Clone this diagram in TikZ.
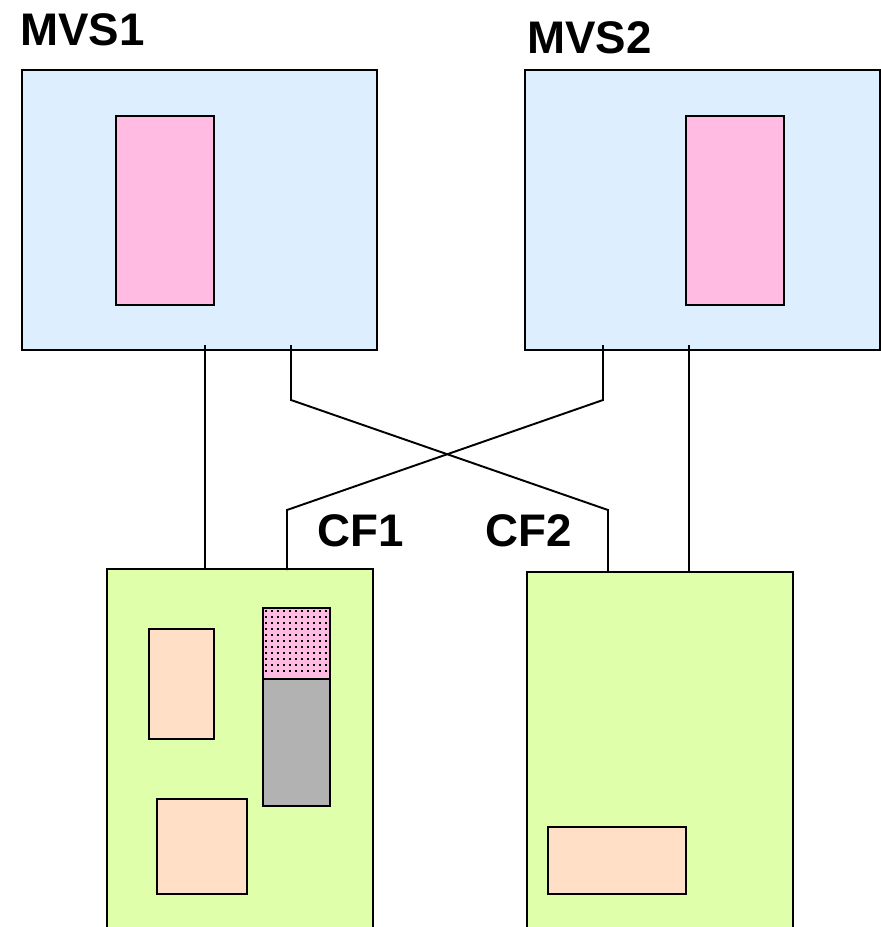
\documentclass[tikz,border=0pt]{standalone}
\usepackage{fontspec}
\setmainfont{Liberation Sans}
\setsansfont{Liberation Sans}
\usetikzlibrary{positioning}
\definecolor{cSys}{RGB}{221,238,255}
\definecolor{cPart}{RGB}{255,187,225}
\definecolor{cCF}{RGB}{224,255,170}
\definecolor{cStr}{RGB}{255,224,198}
\definecolor{cUsed}{RGB}{178,178,178}

\begin{document}
\begin{tikzpicture}[
  x=0.02cm, y=-0.02cm,
  font=\sffamily\bfseries\fontsize{26}{30}\selectfont,
  box/.style={draw=black, line width=1.1pt, inner sep=0pt, anchor=north west},
  sysbox/.style={box, fill=cSys, minimum width=7.1cm, minimum height=5.6cm},
  cfbox/.style={box, fill=cCF, minimum width=5.33cm, minimum height=7.22cm},
  part/.style={box, fill=cPart, minimum width=1.96cm, minimum height=3.78cm},
  strc/.style={box, fill=cStr},
  link/.style={draw=black, line width=1.1pt},
  lab/.style={anchor=base west, inner sep=0pt}
]
\useasboundingbox (0,0) rectangle (880,927);

% ---------------- SYSTEMS ----------------
\node (mvsA) at (21,69)  [sysbox] {};
\node (mvsB) at (524,69) [sysbox] {};
\node (partA) at (115,115) [part] {};
\node (partB) at (685,115) [part] {};
\node[lab] (mvsAlab) at (20,45) {MVS1};
\node[lab] (mvsBlab) at (527,53) {MVS2};

% ---------------- COUPLING FACILITIES ----------------
\node (cfA) at (106,568) [cfbox] {};
\node (cfB) at (526,571) [cfbox] {};
\node[lab] (cfAlab) at (317,546) {CF1};
\node[lab] (cfBlab) at (485,546) {CF2};

% structures in CF1
\node (strA) at (148,628) [strc, minimum width=1.3cm, minimum height=2.2cm] {};
\node (strB) at (156,798) [strc, minimum width=1.8cm, minimum height=1.9cm] {};
\node (dup) at (262,607) [box, fill=cPart, minimum width=1.34cm, minimum height=1.42cm] {};
\foreach \i in {0,...,10}
  \foreach \j in {0,...,10}
    \fill[black] (265+6*\i,610+6*\j) rectangle +(2,2);
\node (used) at (262,678) [box, fill=cUsed, minimum width=1.34cm, minimum height=2.54cm] {};

% structure in CF2
\node (strC) at (547,826) [strc, minimum width=2.76cm, minimum height=1.34cm] {};

% ---------------- LINKS ----------------
\coordinate (lA1) at (205,345);  \coordinate (lA2) at (205,570);
\coordinate (lB1) at (291,345);  \coordinate (lB2) at (608,572);
\coordinate (lC1) at (603,345);  \coordinate (lC2) at (287,570);
\coordinate (lD1) at (689,345);  \coordinate (lD2) at (689,573);
\draw[link] (lA1) -- (lA2);
\draw[link] (lB1) -- (291,400) -- (608,510) -- (lB2);
\draw[link] (lC1) -- (603,400) -- (287,510) -- (lC2);
\draw[link] (lD1) -- (lD2);

\end{tikzpicture}
\end{document}
